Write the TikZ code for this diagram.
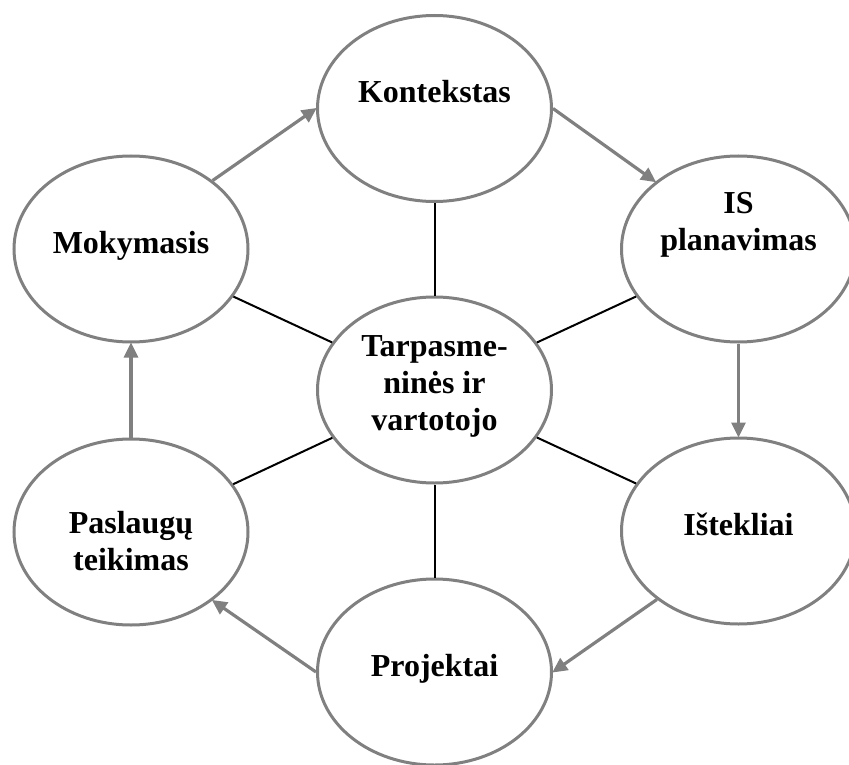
\documentclass[tikz,border=0pt]{standalone}
\usepackage{fontspec}
\setmainfont{Liberation Serif}
\usetikzlibrary{shapes.geometric,arrows.meta}

\definecolor{rimgray}{HTML}{808080}

\tikzset{
  bubble/.style={ellipse, draw=rimgray, line width=3pt, fill=white,
    minimum width=234pt, minimum height=186pt, inner sep=0pt},
  caption/.style={font=\bfseries\fontsize{32}{37}\selectfont, align=center,
    anchor=base, inner sep=0pt},
  flow/.style={draw=rimgray, line width=3.2pt,
    -{Triangle[length=15pt,width=14pt]}, shorten >=-1pt},
  spoke/.style={draw=black, line width=2pt}
}

\begin{document}
\begin{tikzpicture}[x=1pt,y=-1pt]
  \useasboundingbox (0,0) rectangle (849,765);

  % ring of topics around the central one
  \node[bubble] (ctx) at (434.5,108.5) {};
  \node[bubble] (learn) at (131,249) {};
  \node[bubble] (isplan) at (738.5,249) {};
  \node[bubble] (core) at (434.5,390) {};
  \node[bubble] (serv) at (131,532) {};
  \node[bubble] (res) at (738.5,531) {};
  \node[bubble] (proj) at (434.5,672) {};

  % spokes from the centre
  \draw[spoke] (core) -- (ctx);
  \draw[spoke] (core) -- (learn);
  \draw[spoke] (core) -- (isplan);
  \draw[spoke] (core) -- (serv);
  \draw[spoke] (core) -- (res);
  \draw[spoke] (core) -- (proj);

  % cycle of arrows
  \draw[flow] (learn.40) -- (ctx.west);
  \draw[flow] (ctx.east) -- (isplan.141);
  \draw[flow] (isplan.south) -- (res.north);
  \draw[flow] (res.220) -- (proj.east);
  \draw[flow] (proj.west) -- (serv.320);
  \draw[flow] (serv.north) -- (learn.south);

  % labels (base anchor sits on the last line)
  \node[caption] (ctx-t) at (434.5,103) {Kontekstas};
  \node[caption] (isplan-t) at (738.5,250) {IS\\planavimas};
  \node[caption] (learn-t) at (131,253) {Mokymasis};
  \node[caption] (core-t) at (434.5,430) {Tarpasme-\\ninės ir\\vartotojo};
  \node[caption] (serv-t) at (131,570) {Paslaugų\\teikimas};
  \node[caption] (res-t) at (738.5,535) {Ištekliai};
  \node[caption] (proj-t) at (434.5,676) {Projektai};
\end{tikzpicture}
\end{document}
